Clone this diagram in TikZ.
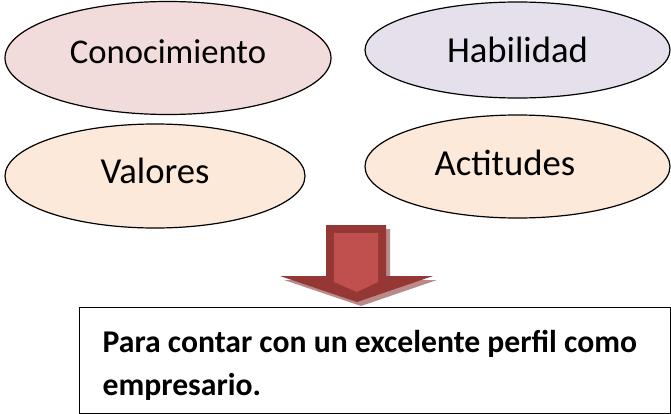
\documentclass[tikz,border=0pt]{standalone}
\usepackage{fontspec}
\setmainfont{Carlito}
\usepackage{tikz}
\usetikzlibrary{shapes,positioning}

\definecolor{rosa}{HTML}{F2DCDB}
\definecolor{lila}{HTML}{E5E0EC}
\definecolor{durazno}{HTML}{FDE9D9}
\definecolor{rojoOsc}{HTML}{953735}
\definecolor{rojoCla}{HTML}{C0504D}
\definecolor{sombra}{RGB}{185,138,138}

\begin{document}
\begin{tikzpicture}[x=0.75pt,y=-0.75pt,thick,
	valor/.style={ellipse,draw,line width=0.9pt,inner sep=0pt,text height=20pt,font=\fontsize{27.5}{30}\selectfont},
	meta/.style={draw,line width=1.1pt,rectangle,inner xsep=17.25pt,text width=408.75pt,align=flush left,minimum height=79.5pt,font=\bfseries\fontsize{23.75}{32.25}\selectfont}]
		\useasboundingbox (0,0) rectangle (671,414);
		\node[valor,fill=rosa,minimum width=244.5pt,minimum height=84.75pt,text depth=12pt,font=\fontsize{26}{30}\selectfont] (conoc) at (168,58) {Conocimiento};
		\node[valor,fill=lila,minimum width=228.75pt,minimum height=72pt,text depth=2pt] (habil) at (517.5,50) {Habilidad};
		\node[valor,fill=durazno,minimum width=225pt,minimum height=78pt,text depth=9.5pt] (valores) at (155,176) {Valores};
		\node[valor,fill=durazno,minimum width=228.75pt,minimum height=77.25pt,text depth=7.2pt] (actit) at (517.5,166.5) {Actitudes\kern19pt};
		% flecha hacia abajo
		\fill[sombra] (330,229) -- (390,229) -- (390,280) -- (437,280) -- (361,306) -- (284,280) -- (330,280) -- cycle;
		\fill[rojoOsc] (326,225) -- (386,225) -- (386,276) -- (433,276) -- (357,302) -- (280,276) -- (326,276) -- cycle;
		\fill[rojoCla] (334,233) -- (378,233) -- (378,282) -- (357,292) -- (334,282) -- cycle;
		\node[meta,anchor=north west] (perfil) at (79,307) {\rule{0pt}{23pt}Para contar con un excelente perfil como\\empresario.};
\end{tikzpicture}
\end{document}
